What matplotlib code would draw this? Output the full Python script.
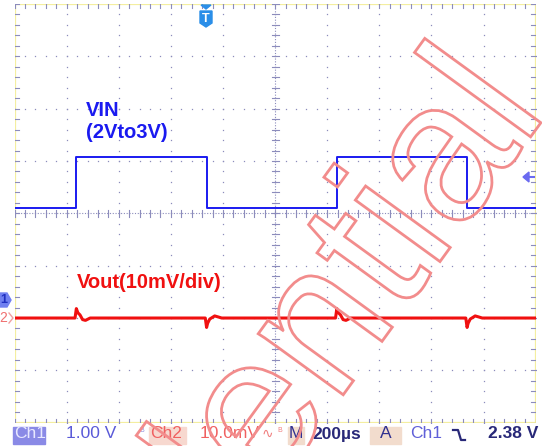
#!/usr/bin/env python3
import numpy as np
import matplotlib
matplotlib.use("Agg")
import matplotlib.pyplot as plt
from matplotlib.textpath import TextPath
from matplotlib.patches import PathPatch, Polygon, Rectangle
from matplotlib.font_manager import FontProperties
from matplotlib.transforms import Affine2D

# ---- data (time in us relative to trigger) ----
vin_t = [-737, -500, -500, 0, 0, 500, 500, 1000, 1000, 1263]
vin_v = [2.0, 2.0, 2.97, 2.97, 2.0, 2.0, 2.97, 2.97, 2.0, 2.0]

rise_edges = [-500, 500]
fall_edges = [0, 1000]
# Vout ripple shape around an edge (us offset, mV)
rise_dt = [-5, 0, 6, 14, 24, 35, 53]
rise_mv = [0.0, 1.8, 1.0, 0.6, -0.3, -0.45, 0.0]
fall_dt = [-5, 0, 4, 12, 31, 45, 58]
fall_mv = [0.0, -1.8, -1.0, -0.2, 0.4, 0.2, 0.0]

ch1_volts_div = 1.0
ch1_offset_div = -1.895
ch2_mv_div = 10.0
ch2_offset_div = -2.0

W, H = 542, 446
fig = plt.figure(figsize=(W / 100, H / 100), dpi=100)
fig.patch.set_facecolor("white")


def fx(x):
    return x / W


def fy(y):
    return 1 - y / H


L, R, T, B = 14.6, 535.6, 4.0, 422.7
ax = fig.add_axes([fx(L), fy(B), (R - L) / W, (B - T) / H])
ax.set_xlim(-737, 1263)
ax.set_ylim(-4, 4)
ax.set_axis_off()

# ---- graticule ----
gcol = "#8c8cbc"
tr = ax.transAxes
for i in range(1, 10):
    ys = np.arange(0, 41) / 40
    ax.plot(np.full_like(ys, i / 10), ys, ls="none", marker="s", ms=0.9,
            mec="none", mfc=gcol, transform=tr)
for j in range(1, 8):
    xs = np.arange(0, 51) / 50
    ax.plot(xs, np.full_like(xs, j / 8), ls="none", marker="s", ms=0.9,
            mec="none", mfc=gcol, transform=tr)

# center lines with ticks
ax.plot([0.5, 0.5], [0, 1], color=gcol, lw=0.8, ls=(0, (1, 1.5)), transform=tr)
ax.plot([0, 1], [0.5, 0.5], color=gcol, lw=0.8, ls=(0, (1, 1.5)), transform=tr)
tkx = 3.5 / (R - L)
tky = 3.5 / (B - T)
for j in range(0, 41):
    y = j / 40
    ax.plot([0.5 - tkx, 0.5 + tkx], [y, y], color=gcol, lw=0.8, transform=tr)
    ax.plot([0, 2 * tkx * 0.6], [y, y], color=gcol, lw=0.8, transform=tr)
    ax.plot([1 - 2 * tkx * 0.6, 1], [y, y], color=gcol, lw=0.8, transform=tr)
for i in range(0, 51):
    x = i / 50
    ax.plot([x, x], [0.5 - tky, 0.5 + tky], color=gcol, lw=0.8, transform=tr)
    ax.plot([x, x], [0, 2 * tky * 0.6], color=gcol, lw=0.8, transform=tr)
    ax.plot([x, x], [1 - 2 * tky * 0.6, 1], color=gcol, lw=0.8, transform=tr)

# frame
ax.add_patch(Rectangle((0, 0), 1, 1, transform=tr, fill=False,
                       ec="#f4eea0", lw=1.6, zorder=1))

# ---- traces ----
vin_div = [ch1_offset_div + v / ch1_volts_div for v in vin_v]
ax.plot(vin_t, vin_div, color="#1a1af0", lw=1.4, zorder=5)

vt = [-737]
vm = [0.0]
edges = sorted([(e, "r") for e in rise_edges] + [(e, "f") for e in fall_edges])
for e, kind in edges:
    dts, mvs = (rise_dt, rise_mv) if kind == "r" else (fall_dt, fall_mv)
    vt += [e + d for d in dts]
    vm += mvs
vt.append(1263)
vm.append(0.0)
vout_div = [ch2_offset_div + m / ch2_mv_div for m in vm]
ax.plot(vt, vout_div, color="#f01010", lw=2.2, zorder=6)

# ---- labels ----
bold = dict(family="Liberation Sans", weight="bold", fontsize=14.5)
fig.text(fx(86), fy(110), "VIN", color="#1a1af0", va="center", **bold)
fig.text(fx(86), fy(132), "(2Vto3V)", color="#1a1af0", va="center", **bold)
fig.text(fx(77), fy(282), "Vout(10mV/div)", color="#f01010", va="center", **bold)

# trigger marker T
fig.add_artist(Polygon([[fx(201), fy(5)], [fx(211), fy(5)], [fx(206), fy(9)]],
                       closed=True, color="#2a8ee8"))
fig.add_artist(Polygon([[fx(200), fy(11)], [fx(212), fy(11)], [fx(212), fy(23)],
                        [fx(206), fy(27)], [fx(200), fy(23)]],
                       closed=True, color="#2a8ee8"))
fig.text(fx(206), fy(18.5), "T", color="white", ha="center", va="center",
         family="Liberation Sans", weight="bold", fontsize=9)

# trigger level arrow (right)
fig.add_artist(Polygon([[fx(523), fy(177)], [fx(529), fy(172)], [fx(529), fy(182)]],
                       closed=True, color="#6a6af0"))
fig.add_artist(plt.Line2D([fx(526), fx(534)], [fy(177), fy(177)], color="#6a6af0", lw=1.5))

# channel markers (left)
fig.add_artist(Polygon([[0, fy(293)], [fx(7), fy(293)], [fx(11), fy(300)],
                        [fx(7), fy(307)], [0, fy(307)]], closed=True, color="#7080f0"))
fig.text(fx(4), fy(300), "1", color="#2030c0", ha="center", va="center",
         family="Liberation Sans", weight="bold", fontsize=9)
fig.text(fx(-1), fy(318), "2", color="#f07070", ha="left", va="center",
         family="Liberation Sans", fontsize=10)
fig.add_artist(plt.Line2D([fx(9), fx(13), fx(9)], [fy(313), fy(318), fy(323)],
                          color="#f0a0a0", lw=1))

# ---- status bar ----
sy = fy(434)
sb = dict(family="Liberation Sans", fontsize=12.5, va="center")
fig.add_artist(Rectangle((fx(13), fy(444)), fx(32), 17 / H, color="#8a8ae6"))
fig.text(fx(14), sy, "Ch1", color="#e8e8ff", **sb)
fig.text(fx(66), sy, "1.00 V", color="#5a5ad8", **sb)
fig.text(fx(139), fy(430), "B", color="#9090e0", family="Liberation Sans", fontsize=5, va="center")
fig.add_artist(Rectangle((fx(149), fy(444)), fx(37), 17 / H, color="#f7d8cf"))
fig.text(fx(150), sy, "Ch2", color="#f06060", **sb)
fig.text(fx(200), sy, "10.0mV", color="#f06060", **sb)
fig.text(fx(262), sy, "\u223f", color="#f08080", family="DejaVu Sans", fontsize=10, va="center")
fig.text(fx(277), fy(430), "B", color="#f08080", family="Liberation Sans", fontsize=5, va="center")
fig.add_artist(Rectangle((fx(288), fy(444)), fx(16), 17 / H, color="#f2dccd"))
fig.text(fx(289), sy, "M", color="#303090", **sb)
fig.text(fx(312), sy, "200\u00b5s", color="#282878", weight="bold", **sb)
fig.add_artist(Rectangle((fx(370), fy(444)), fx(31), 17 / H, color="#f2dccd"))
fig.text(fx(385.5), sy, "A", color="#303090", ha="center", **sb)
fig.text(fx(410), sy, "Ch1", color="#6060d8", **sb)
fig.add_artist(plt.Line2D([fx(453), fx(458), fx(461), fx(465)],
                          [fy(430), fy(430), fy(440), fy(440)], color="#282878", lw=1.6))
fig.text(fx(488), sy, "2.38 V", color="#282878", weight="bold", **sb)

# ---- watermark ----
tp = TextPath((0, 0), "Confidential", size=198, prop=FontProperties(family="Liberation Sans"))
wm = PathPatch(tp, transform=Affine2D().rotate_deg(54).translate(-66, -512),
               facecolor="none", edgecolor="#f28c8c", lw=2.0, zorder=20)
fig.add_artist(wm)

fig.savefig("out.png", dpi=100)
